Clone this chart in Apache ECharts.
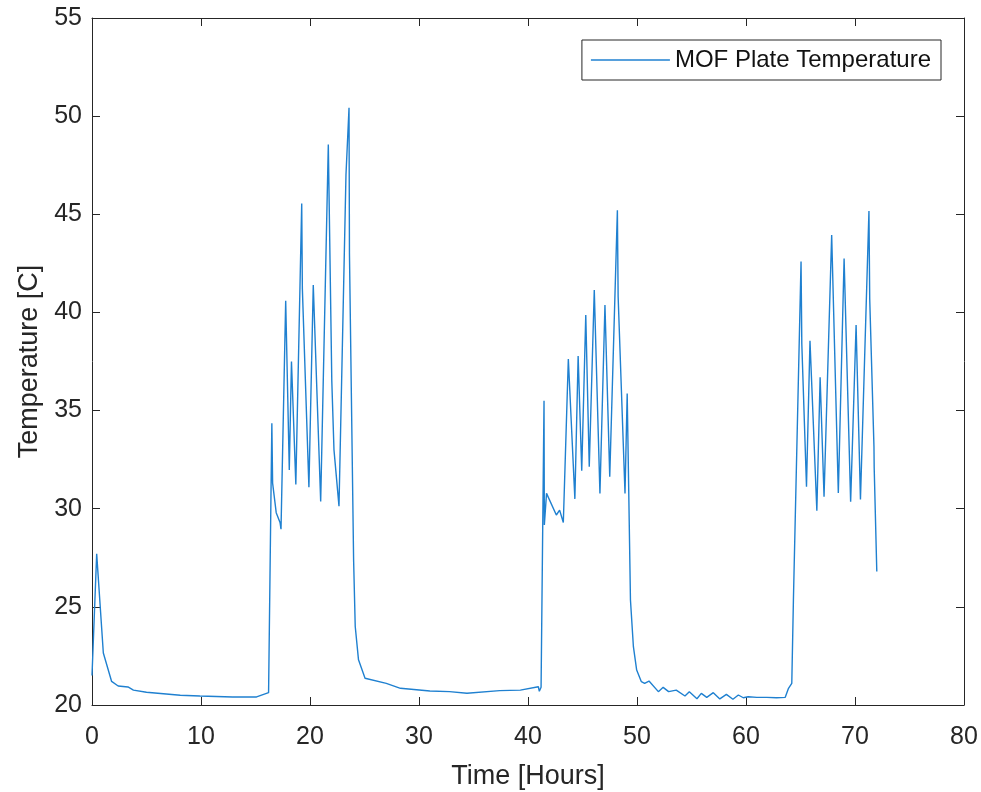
<!DOCTYPE html>
<html>
<head>
<meta charset="utf-8">
<script src="https://cdn.jsdelivr.net/npm/echarts@6/dist/echarts.min.js"></script>
<style>
html,body{margin:0;padding:0;background:#fff;}
#chart{width:981px;height:792px;}
</style>
</head>
<body>
<div id="chart"></div>
<script>
const seriesName = 'MOF Plate Temperature';
const xTicks = [0, 10, 20, 30, 40, 50, 60, 70, 80];
const yTicks = [20, 25, 30, 35, 40, 45, 50, 55];
const timeHours = [
  0, 0.43, 1.04, 1.8, 2.4, 3.3, 3.8, 5.0, 8.1, 9.9, 12.9, 15.1, 16.2,
  16.5, 16.57, 16.9, 17.25, 17.34, 17.77, 18.1, 18.3, 18.7, 19.24, 19.3, 19.9, 20.3, 20.98,
  21.68, 22.0, 22.2, 22.66, 23.3, 23.58, 23.62, 24.0, 24.15, 24.45, 25.05, 27.0, 28.3,
  31.0, 32.8, 34.4, 37.4, 39.3, 40.95, 41.04, 41.2,
  41.47, 41.5, 41.7, 42.6, 42.9, 43.24, 43.7, 44.3, 44.6, 44.93, 45.3, 45.62, 46.08, 46.6,
  47.06, 47.5, 48.2, 48.27, 48.9, 49.1, 49.4, 49.67, 49.97, 50.4, 50.7, 51.1, 51.96, 52.4,
  52.9, 53.6, 54.4, 54.8, 55.5, 55.9, 56.4, 57.0, 57.6, 58.2, 58.8, 59.3, 59.75, 60.2,
  61.0, 61.9, 62.8, 63.6, 63.9, 64.2, 64.35,
  65.05, 65.12, 65.55, 65.87, 66.5, 66.8, 67.16, 67.86, 68.47, 69.0, 69.6, 70.1, 70.5,
  71.28, 71.35, 71.74, 71.76, 72.0
];
const temperatureC = [
  21.5, 27.7, 22.65, 21.2, 20.97, 20.92, 20.76, 20.65, 20.5, 20.46, 20.41, 20.41, 20.63,
  34.35, 31.3, 29.8, 29.3, 28.96, 40.6, 31.97, 37.5, 31.24, 45.55, 41.2, 31.1, 41.4, 30.37,
  48.56, 36.5, 33.0, 30.13, 47.0, 50.43, 43.0, 27.4, 24.0, 22.3, 21.36, 21.1, 20.85,
  20.71, 20.68, 20.6, 20.73, 20.76, 20.93, 20.7, 20.9,
  35.5, 29.17, 30.78, 29.68, 29.93, 29.3, 37.63, 30.5, 37.78, 31.93, 39.87, 32.14, 41.14, 30.78,
  40.38, 31.63, 45.2, 40.8, 30.78, 35.87, 25.35, 22.97, 21.78, 21.19, 21.1, 21.22, 20.68, 20.9,
  20.68, 20.76, 20.46, 20.68, 20.32, 20.59, 20.39, 20.63, 20.31, 20.54, 20.29, 20.51, 20.37, 20.42,
  20.39, 20.39, 20.37, 20.39, 20.85, 21.1, 25.35,
  42.6, 38.4, 31.12, 38.56, 29.9, 36.7, 30.61, 43.94, 30.8, 42.75, 30.36, 39.36, 30.47,
  45.17, 40.7, 33.15, 32.1, 26.8
];

const points = timeHours.map((t, i) => [t, temperatureC[i]]);
const axisColor = '#262626';
const lineColor = '#1f80d0';
const font = '"Liberation Sans", Arial, sans-serif';

const chart = echarts.init(document.getElementById('chart'), null, {renderer: 'canvas'});
const xMin = xTicks[0], xMax = xTicks[xTicks.length - 1], xStep = xTicks[1] - xTicks[0];
const yMin = yTicks[0], yMax = yTicks[yTicks.length - 1], yStep = yTicks[1] - yTicks[0];

chart.setOption({
  animation: false,
  backgroundColor: '#ffffff',
  grid: {left: 92, right: 17, top: 18, bottom: 87, show: false, containLabel: false, outerBoundsMode: 'none'},
  legend: {
    data: [{name: seriesName, icon: 'rect'}],
    right: 40, top: 40,
    borderColor: axisColor, borderWidth: 1,
    padding: [8, 10, 8, 9],
    itemWidth: 79, itemHeight: 1.5, itemGap: 6,
    textStyle: {fontFamily: font, fontSize: 24, color: '#111'},
    backgroundColor: '#fff'
  },
  xAxis: [{
    type: 'value', min: xMin, max: xMax, interval: xStep,
    name: 'Time [Hours]', nameLocation: 'middle', nameGap: 58,
    nameTextStyle: {fontFamily: font, fontSize: 27, color: axisColor},
    axisLine: {show: true, onZero: false, lineStyle: {color: axisColor, width: 1}},
    axisTick: {show: true, inside: true, length: 8, lineStyle: {color: axisColor}},
    axisLabel: {fontFamily: font, fontSize: 25, color: axisColor, margin: 20},
    splitLine: {show: false}
  }, {
    type: 'value', position: 'top', min: xMin, max: xMax, interval: xStep,
    axisLine: {show: true, onZero: false, lineStyle: {color: axisColor, width: 1}},
    axisTick: {show: true, inside: true, length: 8, lineStyle: {color: axisColor}},
    axisLabel: {show: false}, splitLine: {show: false}
  }],
  yAxis: [{
    type: 'value', min: yMin, max: yMax, interval: yStep,
    name: 'Temperature [C]', nameLocation: 'middle', nameGap: 46,
    nameTextStyle: {fontFamily: font, fontSize: 27, color: axisColor},
    axisLine: {show: true, onZero: false, lineStyle: {color: axisColor, width: 1}},
    axisTick: {show: true, inside: true, length: 8, lineStyle: {color: axisColor}},
    axisLabel: {fontFamily: font, fontSize: 25, color: axisColor, margin: 10},
    splitLine: {show: false}
  }, {
    type: 'value', position: 'right', min: yMin, max: yMax, interval: yStep,
    axisLine: {show: true, onZero: false, lineStyle: {color: axisColor, width: 1}},
    axisTick: {show: true, inside: true, length: 8, lineStyle: {color: axisColor}},
    axisLabel: {show: false}, splitLine: {show: false}
  }],
  series: [{
    name: seriesName,
    type: 'line',
    data: points,
    showSymbol: false,
    symbol: 'none',
    lineStyle: {color: lineColor, width: 1.4},
    itemStyle: {color: lineColor}
  }]
});
</script>
</body>
</html>
